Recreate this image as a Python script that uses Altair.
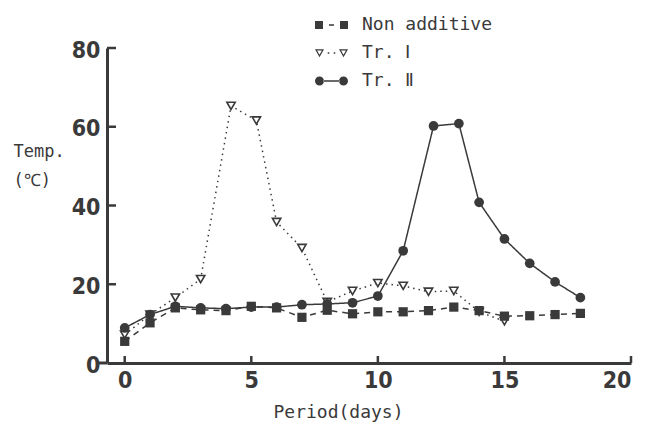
import altair as alt
import pandas as pd

series_names = ["Non additive", "Tr. Ⅰ", "Tr. Ⅱ"]

na_days = list(range(19))
na_temp = [5.5, 10.2, 14.0, 13.5, 13.3, 14.4, 14.0, 11.6, 13.4, 12.5, 13.0, 13.0,
           13.3, 14.2, 13.3, 11.9, 12.0, 12.3, 12.6]

t1_days = [0, 1, 2, 3, 4.2, 5.2, 6, 7, 8, 9, 10, 11, 12, 13, 14, 15]
t1_temp = [7.2, 12.3, 16.6, 21.3, 65.3, 61.6, 35.8, 29.2, 15.5, 18.3, 20.3, 19.6,
           18.1, 18.3, 13.0, 10.6]

t2_days = [0, 1, 2, 3, 4, 5, 6, 7, 8, 9, 10, 11, 12.2, 13.2, 14, 15, 16, 17, 18]
t2_temp = [8.9, 12.3, 14.4, 14.0, 13.8, 14.2, 14.2, 14.8, 15.0, 15.3, 17.0, 28.5,
           60.2, 60.8, 40.8, 31.5, 25.3, 20.6, 16.6]

x_ticks = [0, 5, 10, 15, 20]
y_ticks = [0, 20, 40, 60, 80]

rows = []
for name, days, temps in [(series_names[0], na_days, na_temp),
                          (series_names[1], t1_days, t1_temp),
                          (series_names[2], t2_days, t2_temp)]:
    for d, t in zip(days, temps):
        rows.append({"series": name, "day": d, "temp": t})
df = pd.DataFrame(rows)

INK = "#3a3a3a"
LABEL_FONT = "DejaVu Sans Condensed, Liberation Sans Narrow, sans-serif"
TEXT_FONT = "DejaVu Sans Mono, monospace"

W, H = 524, 315

x_scale = alt.Scale(domain=[-0.7, 20], nice=False)
y_scale = alt.Scale(domain=[0, 80], nice=False)

x_enc = alt.X("day:Q", scale=x_scale,
              axis=alt.Axis(values=x_ticks, format="d", title="Period(days)",
                            titleX=231, titleY=54, titleBaseline="alphabetic",
                            titleAnchor="start", titleAlign="center",
                            titleFont=TEXT_FONT, titleFontSize=18,
                            titleFontWeight="normal", titleColor=INK,
                            labelPadding=6))
y_enc = alt.Y("temp:Q", scale=y_scale,
              axis=alt.Axis(values=y_ticks, format="d", title=["Temp.", "(℃)"],
                            titleAngle=0, titleX=-94, titleY=95,
                            titleAlign="left", titleBaseline="top",
                            titleAnchor="start", titleLineHeight=29,
                            titleFont=TEXT_FONT, titleFontSize=17,
                            titleFontWeight="normal", titleColor=INK,
                            labelPadding=7, labelOffset=2))

dashes = {series_names[0]: [6, 5], series_names[1]: [1.5, 4], series_names[2]: [1, 0]}


def line_layer(name, first=False):
    base = alt.Chart(df).transform_filter(alt.datum.series == name).mark_line(
        color=INK, strokeWidth=1.5, strokeDash=dashes[name])
    if first:
        return base.encode(x=x_enc, y=y_enc)
    return base.encode(x="day:Q", y="temp:Q")


lines = [line_layer(series_names[0], True), line_layer(series_names[1]),
         line_layer(series_names[2])]

tri = alt.Chart(df).transform_filter(alt.datum.series == series_names[1]).mark_point(
    shape="triangle-down", filled=True, fill="white", stroke=INK, strokeWidth=1.6, size=70,
    opacity=1
).encode(x="day:Q", y="temp:Q")

circ = alt.Chart(df).transform_filter(alt.datum.series == series_names[2]).mark_point(
    shape="circle", filled=True, color=INK, size=95, opacity=1
).encode(x="day:Q", y="temp:Q")

sq = alt.Chart(df).transform_filter(alt.datum.series == series_names[0]).mark_point(
    shape="square", filled=True, color=INK, size=85, opacity=1
).encode(x="day:Q", y="temp:Q")

xt = alt.Chart(pd.DataFrame({"day": x_ticks})).mark_rule(color=INK, strokeWidth=2.5).encode(
    x="day:Q", y=alt.value(H), y2=alt.value(H - 7))
yt = alt.Chart(pd.DataFrame({"temp": y_ticks[1:]})).mark_rule(color=INK, strokeWidth=2.5).encode(
    y="temp:Q", x=alt.value(0), x2=alt.value(9))
# short stub of the x axis line reaching left past the y axis
stub = alt.Chart(pd.DataFrame({"temp": [0]})).mark_rule(color=INK, strokeWidth=3).encode(
    y="temp:Q", x=alt.value(-11), x2=alt.value(0))

# legend key shapes (unit = 10 px with symbol size 400)
p_na = ("M-1.65,-0.4 L-0.85,-0.4 L-0.85,0.4 L-1.65,0.4 Z "
        "M-0.25,-0.08 L0.25,-0.08 L0.25,0.08 L-0.25,0.08 Z "
        "M0.85,-0.4 L1.65,-0.4 L1.65,0.4 L0.85,0.4 Z")
p_t1 = ("M-1.65,-0.38 L-0.75,-0.38 L-1.2,0.42 Z M-1.44,-0.24 L-1.2,0.18 L-0.96,-0.24 Z "
        "M0.75,-0.38 L1.65,-0.38 L1.2,0.42 Z M0.96,-0.24 L1.2,0.18 L1.44,-0.24 Z "
        "M-0.38,-0.08 L-0.22,-0.08 L-0.22,0.08 L-0.38,0.08 Z "
        "M0.22,-0.08 L0.38,-0.08 L0.38,0.08 L0.22,0.08 Z")
p_t2 = ("M-1.65,0 A0.45,0.45 0 1 0 -0.75,0 A0.45,0.45 0 1 0 -1.65,0 Z "
        "M-0.8,-0.08 L0.8,-0.08 L0.8,0.08 L-0.8,0.08 Z "
        "M0.75,0 A0.45,0.45 0 1 0 1.65,0 A0.45,0.45 0 1 0 0.75,0 Z")

# legend-only layer: its points sit outside the x domain and are clipped away
legend_layer = alt.Chart(df).transform_calculate(off="-50").mark_point(
    filled=True, color=INK, size=400, opacity=1, clip=True
).encode(
    x=alt.X("off:Q", scale=x_scale), y="temp:Q",
    shape=alt.Shape("series:N",
                    scale=alt.Scale(domain=series_names, range=[p_na, p_t1, p_t2]),
                    legend=alt.Legend(title=None, orient="none", legendX=214.5, legendY=-33,
                                      symbolSize=400, symbolStrokeWidth=0,
                                      symbolFillColor=INK, labelOffset=20.5,
                                      rowPadding=9, padding=0,
                                      labelFont=TEXT_FONT, labelFontSize=18,
                                      labelColor=INK, labelLimit=300)),
)

chart = alt.layer(*lines, tri, circ, sq, xt, yt, stub, legend_layer).properties(
    width=W, height=H,
    autosize=alt.AutoSizeParams(type="none"),
    padding={"left": 99, "top": 40, "right": 10, "bottom": 62},
    background="white",
).configure_view(stroke=None).configure_axis(
    grid=False, ticks=False, tickSize=0, domainColor=INK, domainWidth=3,
    labelFont=LABEL_FONT, labelFontSize=23, labelFontWeight="bold",
    labelColor=INK, labelOverlap=False,
)

chart.save("out.html", embed_options={"renderer": "svg", "actions": False})
